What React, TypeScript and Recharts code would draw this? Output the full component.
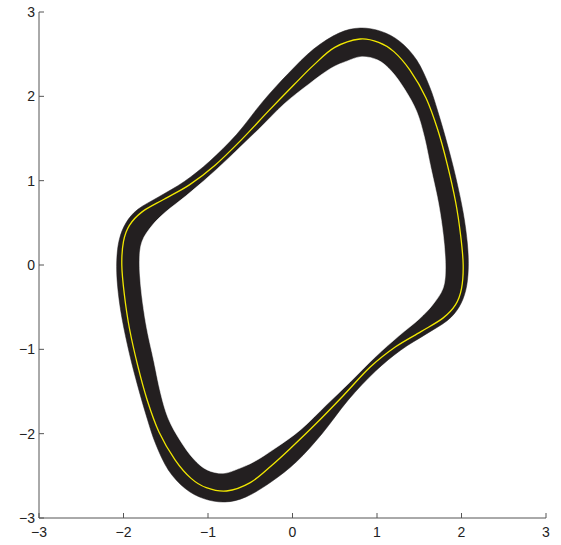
import React from "react";
import { ScatterChart, Scatter, XAxis, YAxis } from "recharts";

type Pt = { x: number; y: number };

// outer edge of the bundle of trajectories (clockwise from the top)
const outerEdge: Pt[] = [
  { x: 0.8, y: 2.81 }, { x: 1.05, y: 2.77 }, { x: 1.27, y: 2.65 }, { x: 1.47, y: 2.43 },
  { x: 1.62, y: 2.12 }, { x: 1.72, y: 1.82 }, { x: 1.83, y: 1.44 }, { x: 1.93, y: 1.05 },
  { x: 2.02, y: 0.62 }, { x: 2.07, y: 0.25 }, { x: 2.08, y: -0.05 }, { x: 2.05, y: -0.3 },
  { x: 1.97, y: -0.5 }, { x: 1.83, y: -0.66 }, { x: 1.58, y: -0.82 }, { x: 1.28, y: -1.01 },
  { x: 0.98, y: -1.26 }, { x: 0.66, y: -1.6 }, { x: 0.35, y: -2.0 }, { x: 0.05, y: -2.33 },
  { x: -0.25, y: -2.57 }, { x: -0.55, y: -2.75 }, { x: -0.8, y: -2.81 }, { x: -1.05, y: -2.77 },
  { x: -1.27, y: -2.65 }, { x: -1.47, y: -2.43 }, { x: -1.62, y: -2.12 }, { x: -1.72, y: -1.82 },
  { x: -1.83, y: -1.44 }, { x: -1.93, y: -1.05 }, { x: -2.02, y: -0.62 }, { x: -2.07, y: -0.25 },
  { x: -2.08, y: 0.05 }, { x: -2.05, y: 0.3 }, { x: -1.97, y: 0.5 }, { x: -1.83, y: 0.66 },
  { x: -1.58, y: 0.81 }, { x: -1.28, y: 0.99 }, { x: -0.98, y: 1.23 }, { x: -0.66, y: 1.55 },
  { x: -0.35, y: 1.94 }, { x: -0.05, y: 2.27 }, { x: 0.25, y: 2.56 }, { x: 0.55, y: 2.75 },
];

// inner edge of the bundle
const innerEdge: Pt[] = [
  { x: 0.82, y: 2.47 }, { x: 1.01, y: 2.43 }, { x: 1.17, y: 2.3 }, { x: 1.33, y: 2.08 },
  { x: 1.47, y: 1.82 }, { x: 1.56, y: 1.52 }, { x: 1.64, y: 1.14 }, { x: 1.73, y: 0.72 },
  { x: 1.79, y: 0.3 }, { x: 1.81, y: -0.05 }, { x: 1.78, y: -0.28 }, { x: 1.66, y: -0.47 },
  { x: 1.5, y: -0.64 }, { x: 1.26, y: -0.84 }, { x: 0.98, y: -1.09 }, { x: 0.68, y: -1.39 },
  { x: 0.4, y: -1.66 }, { x: 0.1, y: -1.95 }, { x: -0.2, y: -2.17 }, { x: -0.45, y: -2.33 },
  { x: -0.65, y: -2.42 }, { x: -0.82, y: -2.47 }, { x: -1.01, y: -2.43 }, { x: -1.17, y: -2.3 },
  { x: -1.33, y: -2.08 }, { x: -1.47, y: -1.82 }, { x: -1.56, y: -1.52 }, { x: -1.64, y: -1.14 },
  { x: -1.73, y: -0.72 }, { x: -1.79, y: -0.3 }, { x: -1.81, y: 0.05 }, { x: -1.78, y: 0.28 },
  { x: -1.66, y: 0.47 }, { x: -1.5, y: 0.63 }, { x: -1.26, y: 0.82 }, { x: -0.98, y: 1.06 },
  { x: -0.68, y: 1.34 }, { x: -0.4, y: 1.61 }, { x: -0.1, y: 1.91 }, { x: 0.2, y: 2.15 },
  { x: 0.45, y: 2.33 }, { x: 0.65, y: 2.42 },
];

// the limit cycle itself
const limitCycle: Pt[] = [
  { x: 0.8, y: 2.68 }, { x: 1.02, y: 2.64 }, { x: 1.2, y: 2.53 }, { x: 1.39, y: 2.31 },
  { x: 1.58, y: 1.98 }, { x: 1.72, y: 1.6 }, { x: 1.83, y: 1.2 }, { x: 1.93, y: 0.75 },
  { x: 1.99, y: 0.35 }, { x: 2.02, y: 0.0 }, { x: 2.0, y: -0.28 }, { x: 1.93, y: -0.47 },
  { x: 1.78, y: -0.63 }, { x: 1.52, y: -0.79 }, { x: 1.22, y: -0.97 }, { x: 0.92, y: -1.21 },
  { x: 0.6, y: -1.55 }, { x: 0.28, y: -1.88 }, { x: -0.02, y: -2.17 }, { x: -0.25, y: -2.38 },
  { x: -0.5, y: -2.58 }, { x: -0.78, y: -2.68 }, { x: -1.02, y: -2.64 }, { x: -1.2, y: -2.53 },
  { x: -1.39, y: -2.31 }, { x: -1.58, y: -1.98 }, { x: -1.72, y: -1.6 }, { x: -1.83, y: -1.2 },
  { x: -1.93, y: -0.75 }, { x: -1.99, y: -0.35 }, { x: -2.02, y: 0.0 }, { x: -2.0, y: 0.28 },
  { x: -1.93, y: 0.47 }, { x: -1.78, y: 0.63 }, { x: -1.52, y: 0.78 }, { x: -1.22, y: 0.95 },
  { x: -0.92, y: 1.18 }, { x: -0.6, y: 1.49 }, { x: -0.28, y: 1.83 }, { x: 0.02, y: 2.14 },
  { x: 0.25, y: 2.37 }, { x: 0.5, y: 2.58 },
];

const ticks = [-3, -2, -1, 0, 1, 2, 3];

const axisColor = "#555";
const bandColor = "#231f20";
const font = "'Liberation Sans', Arial, Helvetica, sans-serif";

const fmt = (v: number) => (v < 0 ? `\u2212${-v}` : `${v}`);

// closed Catmull-Rom spline through pixel points
function closedSpline(pts: { x: number; y: number }[]) {
  const n = pts.length;
  let d = `M${pts[0].x},${pts[0].y}`;
  for (let i = 0; i < n; i++) {
    const p0 = pts[(i - 1 + n) % n];
    const p1 = pts[i];
    const p2 = pts[(i + 1) % n];
    const p3 = pts[(i + 2) % n];
    const c1x = p1.x + (p2.x - p0.x) / 6;
    const c1y = p1.y + (p2.y - p0.y) / 6;
    const c2x = p2.x - (p3.x - p1.x) / 6;
    const c2y = p2.y - (p3.y - p1.y) / 6;
    d += `C${c1x},${c1y} ${c2x},${c2y} ${p2.x},${p2.y}`;
  }
  return d + "Z";
}

const filledLoop = (color: string) => (props: any) => (
  <path d={closedSpline(props.points)} fill={color} stroke={color} strokeWidth={0.5} />
);

const strokedLoop = (color: string) => (props: any) => (
  <path d={closedSpline(props.points)} fill="none" stroke={color} strokeWidth={1.3} />
);

const noMarker = () => <g />;

const YTick = (props: any) => {
  const { x, y, payload } = props;
  return (
    <g>
      <line x1={x} y1={y} x2={x + 5} y2={y} stroke={axisColor} />
      <text x={x - 4} y={y} dy="0.36em" textAnchor="end" fontSize={14} fontFamily={font} fill="#222">
        {fmt(payload.value)}
      </text>
    </g>
  );
};

const XTick = (props: any) => {
  const { x, y, payload } = props;
  return (
    <g>
      <line x1={x} y1={y} x2={x} y2={y - 5} stroke={axisColor} />
      <text x={x} y={y + 18.5} textAnchor="middle" fontSize={14} fontFamily={font} fill="#222">
        {fmt(payload.value)}
      </text>
    </g>
  );
};

export default function App() {
  return (
    <div style={{ position: "absolute", left: 0, top: 0, width: 561, height: 545, background: "#fff" }}>
      <ScatterChart width={561} height={545} margin={{ top: 12, right: 15, left: 0, bottom: 0 }}>
        <XAxis
          type="number"
          dataKey="x"
          domain={[-3, 3]}
          ticks={ticks}
          allowDataOverflow
          height={27}
          tickSize={0}
          tickMargin={0}
          tickLine={false}
          tick={<XTick />}
          axisLine={{ stroke: axisColor }}
        />
        <YAxis
          type="number"
          dataKey="y"
          domain={[-3, 3]}
          ticks={ticks}
          allowDataOverflow
          width={39}
          tickSize={0}
          tickMargin={0}
          tickLine={false}
          tick={<YTick />}
          axisLine={{ stroke: axisColor }}
        />
        <Scatter data={outerEdge} shape={noMarker} line={filledLoop(bandColor)} isAnimationActive={false} />
        <Scatter data={innerEdge} shape={noMarker} line={filledLoop("#ffffff")} isAnimationActive={false} />
        <Scatter data={limitCycle} shape={noMarker} line={strokedLoop("#f2e800")} isAnimationActive={false} />
      </ScatterChart>
    </div>
  );
}
